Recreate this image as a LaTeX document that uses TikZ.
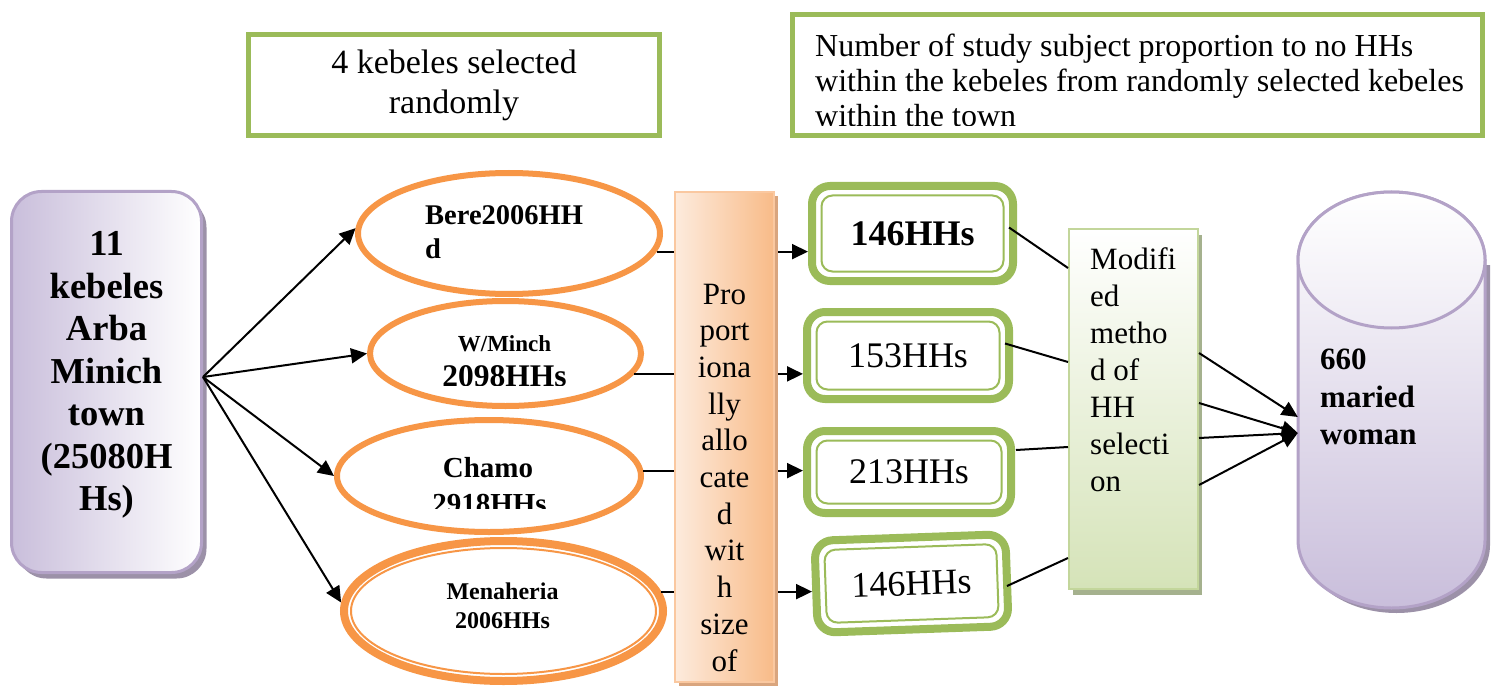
\documentclass[tikz,border=0pt]{standalone}
\usepackage{fontspec}
\setmainfont{Liberation Serif}
\usetikzlibrary{shapes.geometric,arrows.meta,shadows,calc}
\newcommand\fsz[2]{\fontsize{#1pt}{#2pt}\selectfont}
\definecolor{grn}{HTML}{9BBB59}
\definecolor{org}{HTML}{F79646}
\definecolor{pur}{HTML}{B3A2C7}
\definecolor{lav}{HTML}{C9BEDB}
\definecolor{peachL}{HTML}{FDEBDD}
\definecolor{peachD}{HTML}{F8BB88}
\definecolor{peachB}{HTML}{FAC8A0}
\definecolor{peachS}{HTML}{D9A57E}
\definecolor{lgrn}{HTML}{D5E3B8}
\definecolor{lgrnB}{HTML}{C3D69B}
\definecolor{grnS}{HTML}{A5B18E}
\definecolor{purS}{HTML}{9C91A8}
\tikzset{
  topbox/.style={draw=grn, line width=5pt, fill=white, inner sep=0},
  kell/.style={ellipse, draw=org, line width=6pt, fill=white, inner sep=0},
  kin/.style={ellipse, draw=org, line width=2pt, inner sep=0},
  hhbox/.style={draw=grn, line width=8pt, rounded corners=18pt, fill=white, inner sep=0},
  hhin/.style={draw=grn, line width=2pt, rounded corners=11pt, inner sep=0},
  arr/.style={line width=2pt, -{Triangle[length=16pt,width=15pt]}},
  conn/.style={line width=2pt},
  lbl/.style={inner sep=0},
}
\begin{document}
\begin{tikzpicture}[x=1pt,y=-1pt]
\useasboundingbox (0,0) rectangle (1493,687);
\fill[white] (0,0) rectangle (1493,687);

% top captions
\node[topbox, minimum width=411, minimum height=101, font=\fsz{34}{40}, align=center] (sel) at (454,85) {4 kebeles selected\\randomly};
\node[topbox, minimum width=690, minimum height=121] (num) at (1137.5,75) {};
\begin{scope}
  \clip (800,20) rectangle (1478,126);
  \node[lbl, anchor=north west, font=\fsz{32}{35}, align=left] (numt) at (815,34)
    {Number of study subject proportion to no HHs\\within the kebeles from randomly selected kebeles\\within the town};
\end{scope}

% town
\node[draw=pur, line width=3pt, rounded corners=30pt, left color=lav, right color=white,
  minimum width=190, minimum height=381, inner sep=0,
  drop shadow={shadow xshift=5pt, shadow yshift=-6pt, fill=purS, opacity=1}] (town) at (106.5,382) {};
\node[lbl, font=\bfseries\fsz{36.5}{42.5}, align=center] (townt) at (106.5,375)
  {11\\kebeles\\Arba\\Minich\\town\\(25080H\\Hs)};
\coordinate (fan) at ($(town.east)+(0,-5)$);

% kebele ellipses
\node[kell, minimum width=302, minimum height=121] (bere) at (509,233.5) {};
\node[kell, minimum width=271, minimum height=105] (wm) at (505.5,353.5) {};
\node[kell, minimum width=304, minimum height=112] (ch) at (489,476) {};
\node[kell, line width=8pt, minimum width=319, minimum height=140] (mh) at (503.5,611) {};
\node[kin, minimum width=305, minimum height=126] (mhi) at (mh) {};

\node[lbl, anchor=base west, font=\bfseries\fsz{28.5}{33}] (bt1) at (425,224) {Bere2006HH};
\node[lbl, anchor=base west, font=\bfseries\fsz{28.5}{33}] (bt2) at (425,258) {d};
\node[lbl, anchor=base, font=\bfseries\fsz{23}{26}] (wt1) at (504.5,351) {W/Minch};
\begin{scope}
  \clip (380,330) rectangle (630,385);
  \node[lbl, anchor=base, font=\bfseries\fsz{31.5}{35}] (wt2) at (504.5,386) {2098HHs};
\end{scope}
\node[lbl, anchor=base, font=\bfseries\fsz{29}{33}] (ct1) at (488,477) {Chamo};
\begin{scope}
  \clip (380,480) rectangle (630,508);
  \node[lbl, anchor=base, font=\bfseries\fsz{29}{33}] (ct2) at (489.5,513) {2918HHs};
\end{scope}
\node[lbl, anchor=base, font=\bfseries\fsz{24}{29}] (mt1) at (502.5,599) {Menaheria};
\node[lbl, anchor=base, font=\bfseries\fsz{24}{29}] (mt2) at (502.5,628) {2006HHs};

% household boxes
\node[hhbox, minimum width=201, minimum height=95, font=\bfseries\fsz{36}{40}] (hh1) at (912.5,233.5) {146HHs};
\node[hhin, minimum width=182, minimum height=76] (hh1i) at (hh1) {};
\node[hhbox, minimum width=202, minimum height=87, font=\fsz{36}{40}] (hh2) at (908,355.5) {153HHs};
\node[hhin, minimum width=183, minimum height=68] (hh2i) at (hh2) {};
\node[hhbox, minimum width=204, minimum height=82, font=\fsz{36}{40}] (hh3) at (909,472) {213HHs};
\node[hhin, minimum width=185, minimum height=63] (hh3i) at (hh3) {};
\node[hhbox, rotate=2, minimum width=191, minimum height=92, font=\fsz{36}{40}] (hh4) at (911.5,583.5) {146HHs};
\node[hhin, rotate=2, minimum width=172, minimum height=73] (hh4i) at (hh4) {};

% ellipse -> household arrows (behind the allocation box)
\draw[arr] (bere.-7) -- (bere.-7 -| hh1.west);
\draw[arr] (wm.-9) -- (wm.-9 -| hh2.west);
\draw[arr] (ch.2) -- (ch.2 -| hh3.west);
\draw[arr] (mh.7) -- (mh.7 -| hh4.west);

% allocation box
\node[draw=peachB, line width=2pt, left color=peachL, right color=peachD, minimum width=99, minimum height=490, inner sep=0,
  drop shadow={shadow xshift=4pt, shadow yshift=-4pt, fill=peachS, opacity=1}] (prop) at (724.5,437) {};
\node[lbl, anchor=north, font=\fsz{31}{36.7}, align=center] (propt) at (724.5,283.5)
  {Pro\\port\\iona\\lly\\allo\\cate\\d\\wit\\h\\size\\of};

% modified method box
\node[draw=lgrnB, line width=2pt, top color=white, bottom color=lgrn, minimum width=129, minimum height=360, inner sep=0,
  drop shadow={shadow xshift=4pt, shadow yshift=-6pt, fill=grnS, opacity=1}] (mod) at (1133.5,409) {};
\node[lbl, anchor=north west, font=\fsz{31}{37}, align=left] (modt) at (1090,247)
  {Modifi\\ed\\metho\\d of\\HH\\selecti\\on};

\draw[conn] ($(hh1.east)+(-8,-6)$) -- ($(mod.north west)+(0,40)$);
\draw[conn] ($(hh2.east)+(-8,-12)$) -- ($(mod.north west)+(0,134)$);
\draw[conn] ($(hh3.east)+(1,-22)$) -- ($(mod.north west)+(0,219)$);
\draw[conn] ($(hh4.east)+(-4,6)$) -- ($(mod.north west)+(0,330)$);

% cylinder
\node[lbl, minimum width=187, minimum height=416] (cyl) at (1391.5,400) {};
\begin{scope}[shift={(5,5)}]
  \fill[purS] (1298,260) -- (1298,540) arc[start angle=180,end angle=360,x radius=93.5pt,y radius=68pt] -- (1485,260) -- cycle;
\end{scope}
\draw[pur, line width=3pt, top color=white, bottom color=lav] (1298,260) -- (1298,540)
  arc[start angle=180,end angle=360,x radius=93.5pt,y radius=68pt] -- (1485,260)
  arc[start angle=0,end angle=180,x radius=93.5pt,y radius=68pt] -- cycle;
\draw[pur, line width=3pt, top color=white, bottom color=lav!30] (1391.5,260) ellipse[x radius=93.5pt, y radius=68pt];
\node[lbl, anchor=north west, font=\bfseries\fsz{31}{37.5}, align=left] (cylt) at (1320,349) {660\\maried\\woman};

\draw[arr] ($(mod.north east)+(0,125)$) -- ($(cyl.west)+(0,17)$);
\draw[arr] ($(mod.north east)+(0,175)$) -- ($(cyl.west)+(0,33)$);
\draw[arr] ($(mod.north east)+(0,210)$) -- ($(cyl.west)+(0,33)$);
\draw[arr] ($(mod.north east)+(0,257)$) -- ($(cyl.west)+(0,33)$);

% town -> kebele arrows
\draw[arr] (fan) -- (bere.178);
\draw[arr] (fan) -- (wm.west);
\draw[arr] (fan) -- (ch.west);
\draw[arr] (fan) -- (mh.177);
\end{tikzpicture}
\end{document}
